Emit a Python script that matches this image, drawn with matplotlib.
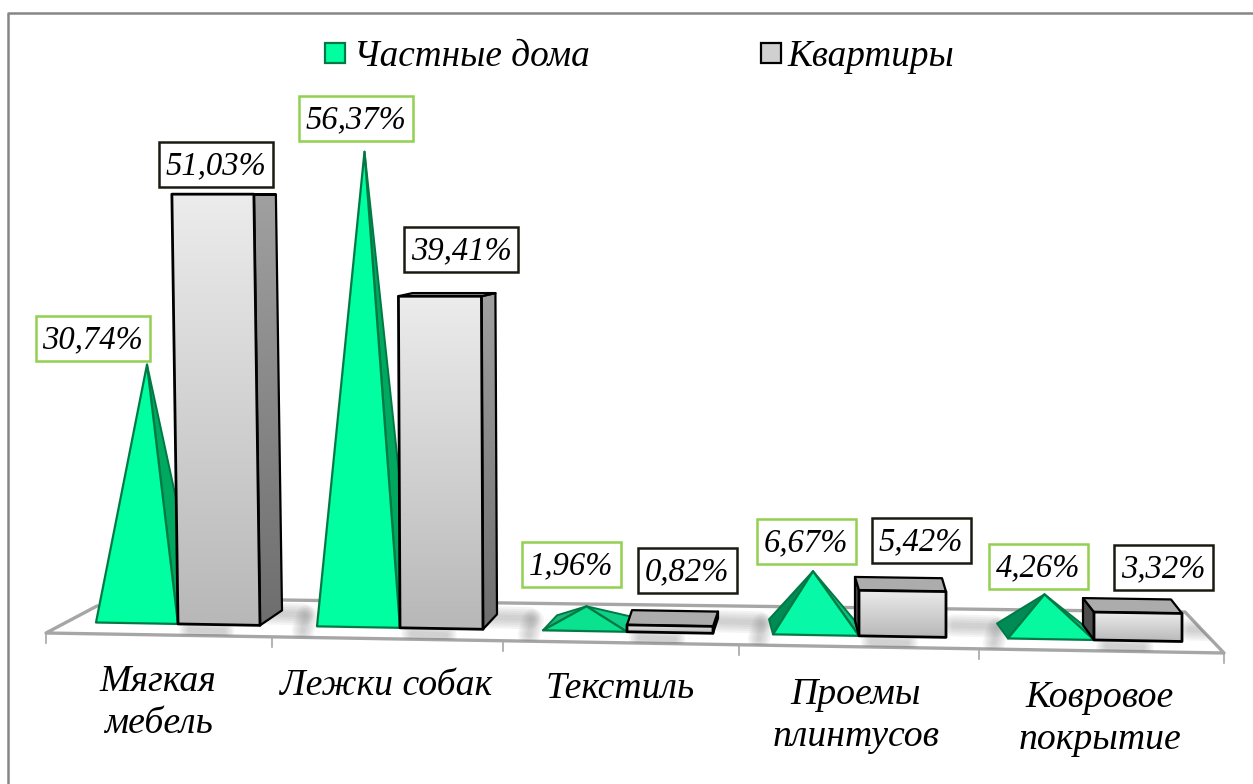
import numpy as np
import matplotlib
matplotlib.use('Agg')
import matplotlib.pyplot as plt
from matplotlib.patches import Polygon, Rectangle

categories = ['Мягкая\nмебель', 'Лежки собак', 'Текстиль', 'Проемы\nплинтусов', 'Ковровое\nпокрытие']
houses = [30.74, 56.37, 1.96, 6.67, 4.26]
flats = [51.03, 39.41, 0.82, 5.42, 3.32]
series_names = ['Частные дома', 'Квартиры']

# layout, all in pixels of the 1253x784 picture
W, H = 1253, 784
PX_PER_PCT = 8.45
Y0 = 622.5
TILT = 0.0175
left_x = [96, 317, 543, 773, 1008]
pyr_w = [82, 83, 84, 86, 86]
bar_w = [82, 83, 86, 87, 88]
depth_dx = [22, 14, 5, -4, -11]
lean = [-0.12, -0.04, 0, 0, 0]
apex_nudge = [-4, 0, 1, 1, 2]
front_green = ['#00ffa0', '#00ffa0', '#0be28f', '#07f9a8', '#07f9a0']
left_green = [None, None, '#18b878', '#008a55', '#008a55']
right_green = ['#00a860', '#00a860', '#10cf88', '#10c080', '#10c080']
house_box_c = [(92.5, 338.5), (355.5, 118.5), (571, 564), (806, 541.5), (1038, 566)]
flat_box_c = [(215.5, 164), (461, 249.5), (687, 570), (921, 540), (1163, 567)]
tick_x = [46, 272, 503, 739, 979, 1224]
label_c = [(158, 703), (386, 686), (620, 689), (856, 716), (1100, 719)]

plt.rcParams['font.family'] = ['Liberation Serif', 'DejaVu Serif']
plt.rcParams['font.style'] = 'italic'

fig = plt.figure(figsize=(W / 100, H / 100), dpi=100)
ax = fig.add_axes([0, 0, 1, 1])
ax.set_xlim(0, W)
ax.set_ylim((Y0 - H) / PX_PER_PCT, Y0 / PX_PER_PCT)
ax.axis('off')


def yp(py):
    return (Y0 - py) / PX_PER_PCT


def base(x):
    return yp(Y0 + TILT * (x - 96))


def depth_dy(h):
    return (15 - 0.3 * h) / PX_PER_PCT


def poly(pts, fc, ec, lw, z):
    p = Polygon(pts, closed=True, facecolor=fc, edgecolor=ec, linewidth=lw, zorder=z, joinstyle='round')
    ax.add_patch(p)
    return p


def grad(pts, c_top, c_bot, z):
    # vertical gradient clipped to a face
    pts = np.array(pts)
    img = np.linspace(0, 1, 64).reshape(-1, 1, 1)
    c1 = np.array(matplotlib.colors.to_rgb(c_top))
    c2 = np.array(matplotlib.colors.to_rgb(c_bot))
    rgb = c1 * (1 - img) + c2 * img
    im = ax.imshow(rgb, extent=[pts[:, 0].min(), pts[:, 0].max(), pts[:, 1].min(), pts[:, 1].max()],
                   aspect='auto', zorder=z, origin='upper', interpolation='bilinear')
    clip = Polygon(pts, closed=True, transform=ax.transData, facecolor='none', edgecolor='none')
    im.set_clip_path(clip)


def soft(xs, ys, floor):
    # blurred stroke on the floor, stacked see-through lines
    for lw in [16, 13, 10, 7, 4]:
        ln, = ax.plot(xs, ys, color='#707070', lw=lw, alpha=0.07, zorder=3, solid_capstyle='round')
        ln.set_clip_path(floor)


# frame, open on the right and at the bottom
ax.plot([8, 8, W], [yp(H), yp(13), yp(13)], color='#868686', lw=1.8, zorder=1)

# floor
floor_pts = [(46, yp(633)), (97, yp(606)), (282, yp(600)), (1185, yp(612)), (1224, yp(653))]
floor = poly(floor_pts, 'white', '#a6a6a6', 2.4, 2)

# soft shadows on the floor
for i in range(len(categories)):
    xa = left_x[i] + pyr_w[i]
    xb = xa + bar_w[i]
    next_l = left_x[i + 1] if i + 1 < len(categories) else W
    soft([xb + 8, next_l - 14], [base(xb) + 12 / PX_PER_PCT, base(next_l) + 12 / PX_PER_PCT], floor)
    soft([xa + 0.15 * bar_w[i], xa + 0.55 * bar_w[i]], [base(xa) - 6 / PX_PER_PCT, base(xb) - 6 / PX_PER_PCT], floor)
    if i + 1 < len(categories):
        soft([next_l - 10, next_l - 14], [base(next_l) + 10 / PX_PER_PCT, base(next_l) - 4 / PX_PER_PCT], floor)

for x in tick_x:
    y0 = yp(633 + 0.017 * (x - 46))
    ax.plot([x, x], [y0, y0 - 10 / PX_PER_PCT], color='#a6a6a6', lw=1.2, zorder=2)

for i in range(len(categories)):
    h = houses[i]
    xl = left_x[i]
    xr = xl + pyr_w[i]
    dx = depth_dx[i]
    dy = depth_dy(h)
    bl = base(xl)
    br = base(xr)
    apex = ((xl + xr + dx) / 2 - 1, (bl + br) / 2 + h + dy / 2 + apex_nudge[i] / PX_PER_PCT)
    # pyramid
    edge = '#007a45'
    if left_green[i]:
        poly([(xl, bl), (xl + dx + (9 if i == 2 else 0), bl + depth_dy(0)), apex], left_green[i], edge, 1.4, 4)
    poly([(xr, br), (xr + dx, br + depth_dy(0)), apex], right_green[i], edge, 1.4, 4)
    poly([(xl, bl), (xr, br), apex], front_green[i], edge, 1.6, 5)

    # box
    v = flats[i]
    xa = xr
    xb = xa + bar_w[i]
    ba = base(xa)
    bb = base(xb)
    ddy = depth_dy(v)
    ddy0 = depth_dy(0)
    ta = xa + lean[i] * v
    tb = xb + lean[i] * v
    # the top edge flattens out on the tall boxes
    ya = ba + v + (bb - ba) * min(v / 30, 1)
    yb = bb + v
    if dx > 0:
        side = [(xb, bb), (xb + dx, bb + ddy0), (tb + dx, yb + ddy), (tb, yb)]
        grad(side, '#a0a0a0', '#6e6e6e', 6)
        poly(side, 'none', 'black', 1.6, 7)
    else:
        side = [(xa, ba), (xa + dx, ba + ddy0), (ta + dx, ya + ddy), (ta, ya)]
        poly(side, '#4d4d4d', 'black', 1.6, 7)
    poly([(ta, ya), (tb, yb), (tb + dx, yb + ddy), (ta + dx, ya + ddy)], '#acacac', 'black', 1.6, 7)
    face = [(xa, ba), (xb, bb), (tb, yb), (ta, ya)]
    grad(face, '#ececec', '#b8b8b8', 8)
    poly(face, 'none', 'black', 2.0, 9)

# value boxes
for vals, centers, col in [(houses, house_box_c, '#92d050'), (flats, flat_box_c, '#1a1a10')]:
    for val, (cx, cy) in zip(vals, centers):
        txt = ('%.2f%%' % val).replace('.', ',')
        bw = 114 if val >= 10 else 99
        ax.add_patch(Rectangle((cx - bw / 2, yp(cy + 22.5)), bw, 45 / PX_PER_PCT, facecolor='white',
                               edgecolor=col, linewidth=1.8, zorder=10))
        ax.text(cx, yp(cy + 2), txt, fontsize=23.5, ha='center', va='center', zorder=11, color='black')

# category labels
for lab, (cx, cy) in zip(categories, label_c):
    ax.text(cx, yp(cy), lab, fontsize=27.2, ha='center', va='center', linespacing=1.3, color='black')

# legend
ax.add_patch(Rectangle((325, yp(63)), 20, 20 / PX_PER_PCT, facecolor='#00ffa0', edgecolor='#007a45', linewidth=1.6))
ax.text(354, yp(57), series_names[0], fontsize=26.8, ha='left', va='center')
ax.add_patch(Rectangle((761, yp(63)), 20, 20 / PX_PER_PCT, facecolor='#d0d0d0', edgecolor='black', linewidth=1.6))
ax.text(787, yp(57), series_names[1], fontsize=26.8, ha='left', va='center')

ax.set_xlim(0, W)
ax.set_ylim((Y0 - H) / PX_PER_PCT, Y0 / PX_PER_PCT)
fig.savefig('out.png', dpi=100)
